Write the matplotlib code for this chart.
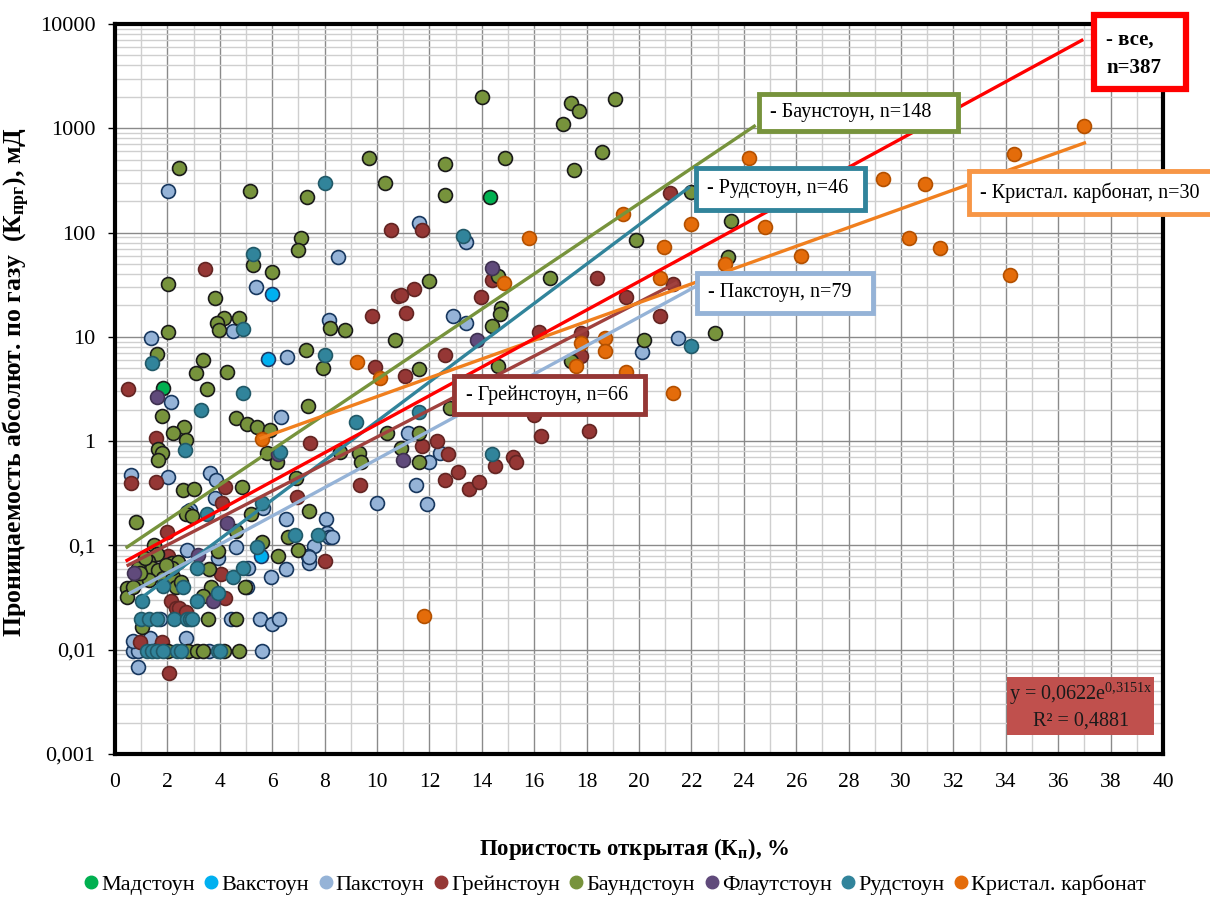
import numpy as np
import matplotlib
matplotlib.use("Agg")
import matplotlib.pyplot as plt
from matplotlib.patches import Rectangle
from matplotlib.lines import Line2D
from matplotlib.ticker import MultipleLocator, LogLocator, FuncFormatter, NullFormatter

plt.rcParams['font.family'] = ['Liberation Serif', 'DejaVu Serif']
plt.rcParams['mathtext.fontset'] = 'custom'
plt.rcParams['mathtext.rm'] = 'Liberation Serif'
plt.rcParams['mathtext.it'] = 'Liberation Serif:italic'
plt.rcParams['mathtext.bf'] = 'Liberation Serif:bold'

# --- data: porosity (%) and gas permeability (mD) ---
mud_x = [1.84, 14.3]
mud_y = [3.2, 220]

wack_x = [6.0, 5.85, 5.58]
wack_y = [25.7, 6.1, 0.079]

pack_x = [2.03, 8.5, 5.4, 4.5, 8.15, 1.38, 6.58, 2.14, 6.35, 11.2, 0.61, 2.03, 3.63, 3.86,
          3.82, 2.87, 5.66, 6.54, 8.07, 7.61, 8.1, 8.18, 7.38, 7.42, 6.54, 5.96, 10.0, 2.75,
          3.94, 5.09, 5.05, 1.72, 4.44, 5.54, 6.0, 6.27, 0.69, 0.88, 3.6, 5.62, 1.34, 2.72,
          0.88, 2.75, 4.63, 11.6, 13.4, 12.9, 13.4, 20.1, 21.5, 11.5, 11.9, 12.0, 12.4, 0.69,
          7.42, 8.3]
pack_y = [250, 58, 30, 11.4, 14.5, 9.7, 6.4, 2.37, 1.7, 1.19, 0.47, 0.45, 0.50, 0.42,
          0.284, 0.218, 0.228, 0.18, 0.18, 0.099, 0.131, 0.12, 0.079, 0.068, 0.059, 0.050, 0.255, 0.090,
          0.076, 0.061, 0.040, 0.0196, 0.0196, 0.0196, 0.0176, 0.0196, 0.0097, 0.0097, 0.0097, 0.0097, 0.013, 0.013,
          0.0068, 0.21, 0.096, 123, 81, 15.8, 13.5, 7.1, 9.7, 0.38, 0.25, 0.63, 0.77, 0.012,
          0.077, 0.12]

grain_x = [10.55, 3.44, 10.8, 9.8, 11.1, 9.94, 11.05, 0.5, 1.57, 7.46, 0.61, 1.57, 4.2, 9.37,
           4.1, 6.96, 1.99, 8.0, 2.03, 4.05, 4.2, 2.14, 2.33, 2.45, 2.72, 0.96, 1.8, 2.07,
           11.7, 11.4, 10.9, 13.96, 14.4, 12.6, 16.2, 17.8, 17.8, 20.8, 19.5, 21.3, 18.4, 21.2,
           11.7, 12.3, 12.7, 15.2, 15.3, 14.5, 13.1, 12.6, 13.5, 13.9, 16.25, 18.1, 16.0]
grain_y = [105, 45, 24.5, 16, 17, 5.1, 4.2, 3.15, 1.07, 0.96, 0.40, 0.41, 0.36, 0.38,
           0.255, 0.29, 0.134, 0.071, 0.079, 0.053, 0.031, 0.029, 0.025, 0.025, 0.023, 0.0119, 0.0119, 0.006,
           105, 28.7, 25, 24, 35, 6.7, 11.1, 10.8, 6.5, 15.8, 24, 32, 37, 240,
           0.9, 1.0, 0.75, 0.70, 0.63, 0.58, 0.51, 0.42, 0.35, 0.41, 1.12, 1.25, 1.8]

bound_x = [2.45, 5.16, 7.34, 9.7, 10.3, 7.1, 6.97, 5.28, 6.0, 2.03, 3.82, 4.17, 3.9, 3.98,
           4.74, 8.2, 8.76, 10.7, 2.03, 1.6, 3.37, 3.1, 4.28, 7.3, 7.92, 3.5, 1.8, 7.38,
           2.64, 2.22, 2.72, 1.64, 1.8, 1.64, 4.63, 5.05, 5.43, 5.9, 5.8, 6.2, 8.6, 9.3,
           9.4, 10.4, 10.9, 4.86, 6.92, 2.6, 3.02, 0.8, 2.72, 2.94, 5.2, 7.42, 4.63, 5.62,
           6.62, 7.0, 6.23, 1.49, 1.6, 1.26, 3.94, 2.18, 2.41, 1.41, 1.64, 0.88, 1.03, 0.46,
           0.46, 0.69, 1.3, 1.84, 2.22, 2.33, 2.18, 3.6, 3.67, 3.37, 4.97, 3.56, 4.63, 1.03,
           2.03, 2.79, 3.14, 3.37, 4.17, 4.74, 12.6, 12.6, 14.0, 14.9, 17.1, 17.4, 17.7, 19.1,
           18.6, 17.5, 22.0, 23.5, 23.4, 22.9, 19.9, 16.6, 14.6, 14.75, 14.7, 14.4, 14.6, 12.0,
           11.6, 20.2, 17.4, 11.6, 11.6, 12.8, 1.15, 0.95, 1.95, 2.5]
bound_y = [415, 250, 218, 520, 297, 88, 68, 49, 42, 32, 23.5, 15, 13.5, 11.6,
           15, 12.1, 11.6, 9.3, 11.1, 6.8, 6.0, 4.5, 4.6, 7.5, 5.0, 3.15, 1.74, 2.16,
           1.36, 1.19, 1.02, 0.84, 0.77, 0.66, 1.66, 1.45, 1.36, 1.27, 0.77, 0.63, 0.78, 0.77,
           0.63, 1.19, 0.86, 0.36, 0.44, 0.34, 0.35, 0.168, 0.20, 0.19, 0.20, 0.213, 0.137, 0.108,
           0.12, 0.09, 0.079, 0.10, 0.083, 0.071, 0.088, 0.068, 0.069, 0.061, 0.058, 0.061, 0.049, 0.039,
           0.032, 0.040, 0.047, 0.049, 0.050, 0.040, 0.061, 0.059, 0.040, 0.033, 0.040, 0.0196, 0.0196, 0.0165,
           0.0097, 0.0097, 0.0097, 0.0097, 0.0097, 0.0097, 450, 230, 2000, 520, 1110, 1750, 1450, 1900,
           590, 400, 245, 129, 58, 11, 85, 37, 38, 19, 16.5, 12.7, 5.3, 34,
           4.9, 9.3, 5.9, 0.63, 1.19, 2.1, 0.075, 0.055, 0.065, 0.045]

flout_x = [1.6, 6.23, 11.0, 4.28, 3.17, 0.73, 3.75, 14.4, 13.8]
flout_y = [2.65, 0.75, 0.66, 0.164, 0.081, 0.055, 0.029, 46, 9.3]

rud_x = [8.0, 5.28, 4.9, 1.41, 8.0, 4.9, 3.29, 9.18, 2.68, 3.52, 5.62, 5.43, 6.88, 7.76,
         1.03, 1.84, 2.6, 3.14, 4.5, 4.9, 3.94, 3.14, 1.0, 1.3, 1.6, 2.26, 2.75, 2.87,
         2.94, 1.22, 1.41, 1.6, 1.84, 2.37, 2.52, 3.94, 4.02, 13.3, 11.6, 14.4, 22.0, 6.3]
rud_y = [297, 62, 11.8, 5.6, 6.7, 2.9, 2.0, 1.52, 0.82, 0.20, 0.255, 0.096, 0.125, 0.125,
         0.029, 0.041, 0.040, 0.061, 0.050, 0.061, 0.035, 0.029, 0.0196, 0.0196, 0.0196, 0.0196, 0.0196, 0.0196,
         0.0196, 0.0097, 0.0097, 0.0097, 0.0097, 0.0097, 0.0097, 0.0097, 0.0097, 92, 1.9, 0.75, 8.1, 0.78]

cryst_x = [5.62, 9.25, 10.1, 11.8, 14.85, 15.8, 17.6, 17.8, 18.7, 18.7, 19.4, 19.5, 20.8, 20.95,
           21.3, 22.0, 23.3, 24.2, 24.8, 26.2, 29.3, 30.3, 30.9, 31.5, 34.15, 34.3, 36.98]
cryst_y = [1.05, 5.7, 4.0, 0.021, 33, 88, 5.2, 8.7, 9.7, 7.3, 150, 4.6, 37, 72,
           2.9, 120, 50, 520, 113, 59, 325, 88, 290, 71, 39, 565, 1050]

# legend order and colours
series = [
    ("Мадстоун", mud_x, mud_y, '#00B050', '#1a1a1a'),
    ("Вакстоун", wack_x, wack_y, '#00B0F0', '#1F3864'),
    ("Пакстоун", pack_x, pack_y, '#95B3D7', '#17375E'),
    ("Грейнстоун", grain_x, grain_y, '#953735', '#632523'),
    ("Баундстоун", bound_x, bound_y, '#77933C', '#1a1a1a'),
    ("Флаутстоун", flout_x, flout_y, '#604A7B', '#3F3151'),
    ("Рудстоун", rud_x, rud_y, '#31849B', '#215968'),
    ("Кристал. карбонат", cryst_x, cryst_y, '#E46C0A', '#B35000'),
]

# exponential trend lines y = a*exp(k*x): (a, k, x start, x end, colour)
trends = [
    (0.0806, 0.3882, 0.46, 24.4, '#77933C'),   # Баундстоун
    (0.0203, 0.4336, 1.05, 21.9, '#31849B'),   # Рудстоун
    (0.0557, 0.2979, 0.50, 21.4, '#A0413E'),   # Грейнстоун
    (0.0292, 0.3135, 0.57, 22.3, '#95B3D7'),   # Пакстоун
    (0.336, 0.2074, 5.58, 37.0, '#F07F1E'),    # Кристал. карбонат
    (0.0622, 0.3151, 0.46, 36.9, '#FF0000'),   # все
]

W, H = 1210, 899
fig = plt.figure(figsize=(W / 100, H / 100), dpi=100)
ax = fig.add_axes([115 / W, 1 - 754 / H, (1163 - 115) / W, (754 - 24) / H])

for name, xs, ys, fc, ec in series:
    ax.scatter(xs, ys, s=100, c=fc, edgecolors=ec, linewidths=1.2, zorder=3)

for a, k, x0, x1, col in trends:
    xx = np.linspace(x0, x1, 200)
    ax.plot(xx, a * np.exp(k * xx), color=col, lw=2.4, zorder=4)

ax.set_yscale('log')
ax.set_xlim(0, 40)
ax.set_ylim(0.001, 10000)
ax.xaxis.set_major_locator(MultipleLocator(2))
ax.xaxis.set_minor_locator(MultipleLocator(1))
ax.yaxis.set_major_locator(LogLocator(base=10, numticks=20))
ax.yaxis.set_minor_locator(LogLocator(base=10, subs=np.arange(2, 10), numticks=20))
ax.yaxis.set_minor_formatter(NullFormatter())
ax.yaxis.set_major_formatter(FuncFormatter(lambda v, p: f"{v:g}".replace('.', ',')))

ax.grid(which='major', color='#8a8a8a', lw=1.0, zorder=0)
ax.grid(which='minor', color='#cfcfcf', lw=1.0, zorder=0)
ax.set_axisbelow(True)

ax.tick_params(axis='x', which='both', length=0, pad=14, labelsize=15.5)
ax.tick_params(axis='y', which='major', length=5, width=1, direction='out', pad=9, labelsize=16)
ax.tick_params(axis='y', which='minor', length=0)
for sp in ax.spines.values():
    sp.set_linewidth(3)
    sp.set_color('black')

ax.set_xlabel("Пористость открытая (К$_{\\mathbf{п}}$), %", fontsize=16.5, fontweight='bold')
ax.xaxis.set_label_coords(0.495, -0.112)
ax.set_ylabel("Проницаемость абсолют. по газу  (К$_{\\mathbf{прг}}$), мД", fontsize=18.5, fontweight='bold')
ax.yaxis.set_label_coords(-0.079, 0.51)


def box(x0, y0, x1, y1, ec, lw, fc='white'):
    r = Rectangle((x0 / W, 1 - y1 / H), (x1 - x0) / W, (y1 - y0) / H, transform=fig.transFigure,
                  facecolor=fc, edgecolor=ec, linewidth=lw, zorder=10)
    fig.add_artist(r)


def label(x, y, s, **kw):
    fig.text(x / W, 1 - y / H, s, va='center', zorder=11, **kw)


box(1094, 15, 1186, 89, '#FF0000', 4.5)
label(1106, 40, "- все,", fontsize=15, fontweight='bold', ha='left')
label(1106, 68, "n=387", fontsize=15, fontweight='bold', ha='left')

box(759, 94, 958, 131, '#77933C', 3.5)
label(770, 113, "- Баунстоун, n=148", fontsize=14.5, ha='left')

box(696, 168, 865, 210, '#31849B', 3.5)
label(707, 189, "- Рудстоун, n=46", fontsize=14.5, ha='left')

box(969, 171, 1215, 214, '#F79646', 3.5)
label(980, 193, "- Кристал. карбонат, n=30", fontsize=14.5, ha='left')

box(697, 273, 873, 313, '#95B3D7', 3.5)
label(708, 293, "- Пакстоун, n=79", fontsize=14.5, ha='left')

box(454, 376, 645, 414, '#953735', 3.5)
label(466, 395, "- Грейнстоун, n=66", fontsize=14.5, ha='left')

box(1007, 677, 1154, 735, 'none', 0, fc='#C0504D')
label(1081, 694, "y = 0,0622e$^{\\mathrm{0{,}3151x}}$", fontsize=14.5, ha='center', color='#1a1a1a')
label(1081, 721, "R² = 0,4881", fontsize=14.5, ha='center', color='#1a1a1a')

handles = [Line2D([], [], ls='none', marker='o', markersize=9, markerfacecolor=fc,
                  markeredgecolor=fc) for _, _, _, fc, _ in series]
names = [s[0] for s in series]
fig.legend(handles, names, loc='center', bbox_to_anchor=(615 / W, 1 - 885 / H), ncol=8,
           frameon=False, fontsize=16, handlelength=0.6, handletextpad=0.15, columnspacing=0.45)

fig.savefig("out.png", dpi=100)
